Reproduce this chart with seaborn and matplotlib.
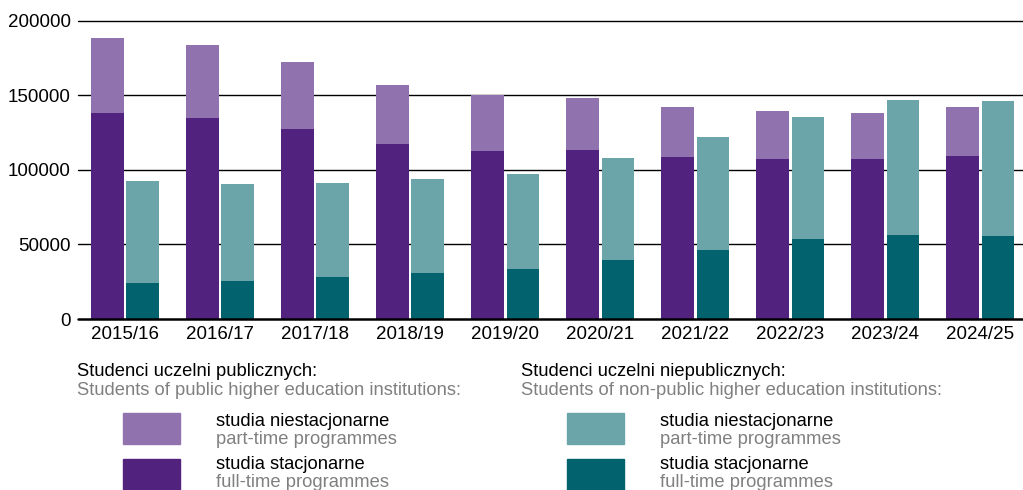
import pandas as pd
import matplotlib.pyplot as plt
import matplotlib.patches as mpatches
import seaborn as sns

# dane
years = ["2015/16", "2016/17", "2017/18", "2018/19", "2019/20",
         "2020/21", "2021/22", "2022/23", "2023/24", "2024/25"]
public_total = [188400, 183700, 172300, 156900, 150200, 148200, 142100, 139500, 138100, 142100]
public_fulltime = [138100, 134800, 127400, 117300, 112600, 113300, 108600, 107300, 107300, 109300]
nonpublic_total = [92500, 90500, 91200, 93600, 97200, 108100, 121800, 135200, 147000, 146400]
nonpublic_fulltime = [24100, 25500, 28200, 30600, 33700, 39800, 46000, 53600, 56300, 55600]

sectors = ["publiczne", "niepubliczne"]

df = pd.DataFrame({
    "rok": years * 2,
    "sektor": ["publiczne"] * len(years) + ["niepubliczne"] * len(years),
    "ogolem": public_total + nonpublic_total,
    "stacjonarne": public_fulltime + nonpublic_fulltime,
})

light = {"publiczne": "#9072ae", "niepubliczne": "#6ba5a9"}
dark = {"publiczne": "#51237f", "niepubliczne": "#02626e"}

sns.set_style("white")
plt.rcParams["font.family"] = ["Liberation Sans", "DejaVu Sans"]

fig = plt.figure(figsize=(10.23, 4.9), dpi=100)
ax = fig.add_axes([77.5 / 1023, 1 - 319 / 490, (1023 - 77.5) / 1023, 298.3 / 490])

# najpierw ogółem (jasny kolor), potem stacjonarne na wierzchu
sns.barplot(data=df, x="rok", y="ogolem", hue="sektor", hue_order=sectors,
            palette=light, width=0.74, gap=0.08, dodge=True, ax=ax,
            legend=False, saturation=1, linewidth=0, zorder=2)
sns.barplot(data=df, x="rok", y="stacjonarne", hue="sektor", hue_order=sectors,
            palette=dark, width=0.74, gap=0.08, dodge=True, ax=ax,
            legend=False, saturation=1, linewidth=0, zorder=3)

ax.set_ylim(0, 200000)
ax.set_xlim(-0.5, 9.45)
for v in [50000, 100000, 150000, 200000]:
    ax.axhline(v, color="black", lw=1, zorder=1, clip_on=False)
ax.axhline(0, color="black", lw=1.8, zorder=4, clip_on=False)
ax.set_yticks([0, 50000, 100000, 150000, 200000])
ax.set_yticklabels(["0", "50000", "100000", "150000", "200000"])
ax.tick_params(axis="both", length=0, labelsize=13.5, colors="black")
ax.tick_params(axis="y", pad=5)
ax.tick_params(axis="x", pad=5)
ax.set_xlabel("")
ax.set_ylabel("")
sns.despine(ax=ax, left=True, bottom=True)

# legenda rysowana ręcznie
def fx(px):
    return px / 1023

def fy(py):
    return 1 - py / 490

gray = "#808080"
fs = 13.2
blocks = [
    (77, 123, 216, "Studenci uczelni publicznych:",
     "Students of public higher education institutions:", "publiczne"),
    (521, 567, 660, "Studenci uczelni niepublicznych:",
     "Students of non-public higher education institutions:", "niepubliczne"),
]
rows = [(413, "light", "studia niestacjonarne", "part-time programmes", 421.5, 439.5),
        (459, "dark", "studia stacjonarne", "full-time programmes", 464.5, 482)]
for hx, sx, tx, pl, en, key in blocks:
    fig.text(fx(hx), fy(371.5), pl, fontsize=fs, color="black", va="center")
    fig.text(fx(hx), fy(390.5), en, fontsize=fs, color=gray, va="center")
    for top, shade, t1, t2, y1, y2 in rows:
        col = light[key] if shade == "light" else dark[key]
        fig.patches.append(mpatches.Rectangle((fx(sx), fy(top + 31)), fx(57), 31 / 490,
                                              transform=fig.transFigure, color=col,
                                              figure=fig))
        fig.text(fx(tx), fy(y1), t1, fontsize=fs, color="black", va="center")
        fig.text(fx(tx), fy(y2), t2, fontsize=fs, color=gray, va="center")

fig.savefig("out.png", dpi=100)
